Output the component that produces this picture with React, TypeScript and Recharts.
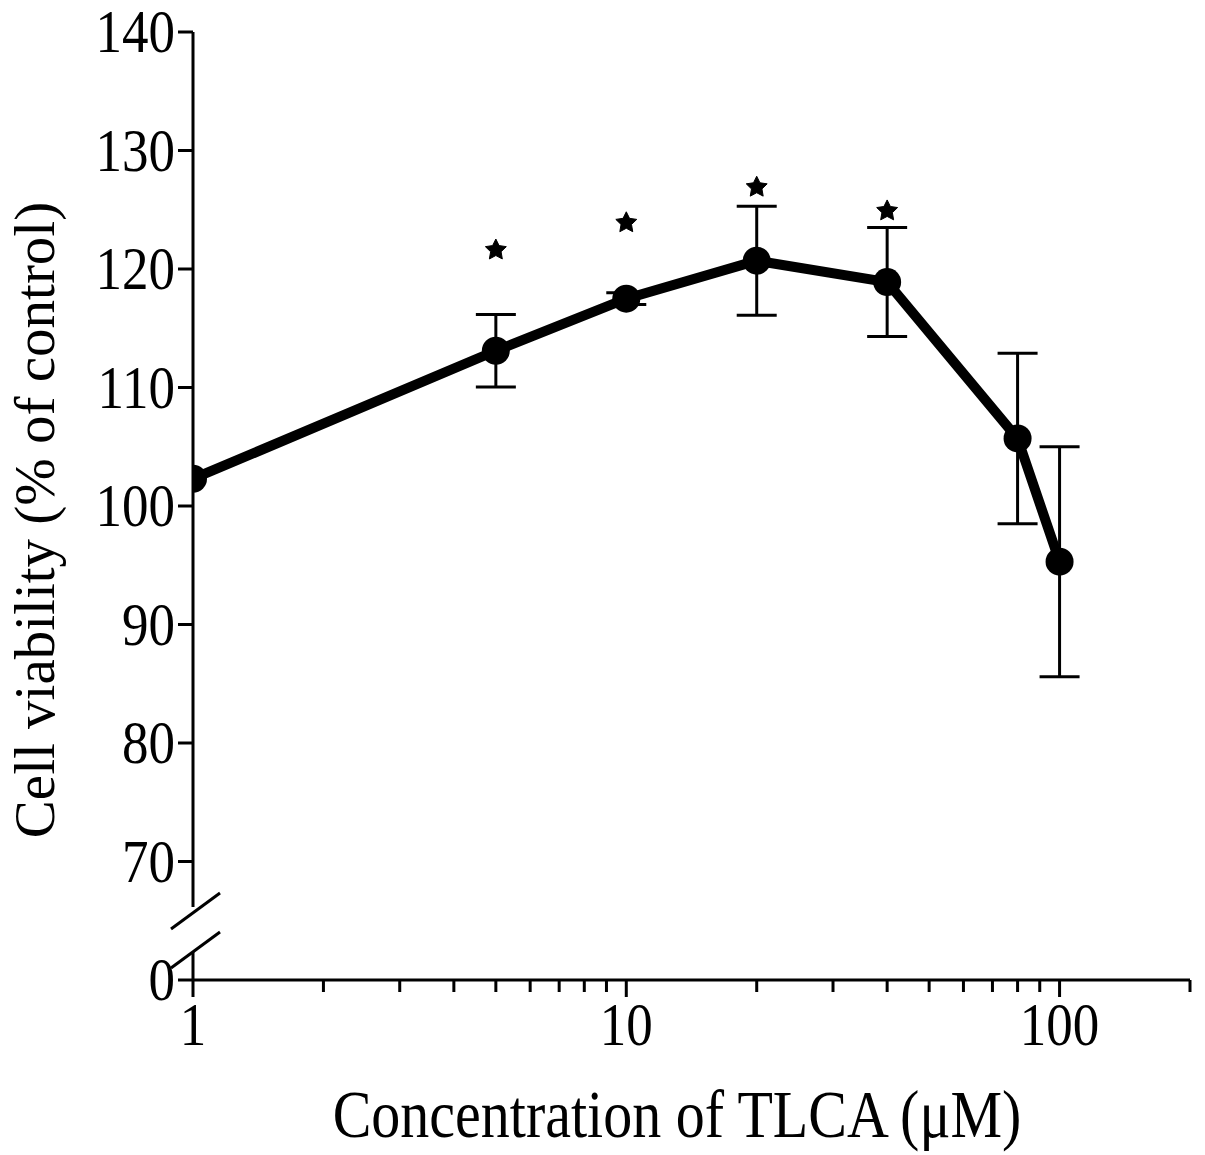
import React from 'react';
import { ComposedChart, Line, Scatter, XAxis, YAxis, ErrorBar } from 'recharts';

const concentrations = [1, 5, 10, 20, 40, 80, 100];
const viability = [102.3, 113.1, 117.5, 120.7, 118.9, 105.7, 95.3];
const sem = [0, 3.05, 0.5, 4.6, 4.6, 7.2, 9.7];

const starConcentrations = [5, 10, 20, 40];
const starLevels = [121.6, 123.9, 126.9, 124.9];

const xTicks = [1, 2, 3, 4, 5, 6, 7, 8, 9, 10, 20, 30, 40, 50, 60, 70, 80, 90, 100, 200];
const xMajor = [1, 10, 100];
const yTicks = [60, 70, 80, 90, 100, 110, 120, 130, 140];

const data = concentrations.map((c, i) => ({ c, v: viability[i], e: sem[i] }));
const stars = starConcentrations.map((c, i) => ({ c, s: starLevels[i] }));

const FONT = '"Liberation Serif", "Times New Roman", serif';
const STRETCH = 1.17;

function XTick({ x, y, payload }: any) {
  const v = payload.value;
  const major = xMajor.includes(v);
  return (
    <g>
      <line x1={x} x2={x} y1={y} y2={y + (major ? 17 : 12)} stroke="#000" strokeWidth={3} />
      {major && (
        <text
          transform={`translate(${x},${y + 65}) scale(1,${STRETCH})`}
          textAnchor="middle"
          fontFamily={FONT}
          fontSize={53}
          fill="#000"
        >
          {v}
        </text>
      )}
    </g>
  );
}

function YTick({ x, y, payload }: any) {
  const v = payload.value;
  const axisX = x + 18;
  return (
    <g>
      <text
        transform={`translate(${x},${y + 20}) scale(1,${STRETCH})`}
        textAnchor="end"
        fontFamily={FONT}
        fontSize={53}
        fill="#000"
      >
        {v === 60 ? '0' : v}
      </text>
      {v === 60 && (
        <g>
          <rect x={axisX - 4} y={y - 73} width={8} height={45} fill="#fff" />
          <line x1={axisX - 22} y1={y - 51} x2={axisX + 27} y2={y - 87} stroke="#000" strokeWidth={3} />
          <line x1={axisX - 22} y1={y - 12} x2={axisX + 27} y2={y - 48} stroke="#000" strokeWidth={3} />
        </g>
      )}
    </g>
  );
}

function StarShape({ cx, cy }: any) {
  const pts: string[] = [];
  for (let k = 0; k < 10; k++) {
    const r = k % 2 === 0 ? 11 : 5.5;
    const a = -Math.PI / 2 + (k * Math.PI) / 5;
    pts.push(`${cx + r * Math.cos(a)},${cy + r * Math.sin(a)}`);
  }
  return <polygon points={pts.join(' ')} fill="#000" stroke="#000" strokeWidth={1} strokeLinejoin="round" />;
}

export default function App() {
  return (
    <div style={{ position: 'absolute', left: 0, top: 0, width: 1205, height: 1155, background: '#fff' }}>
      <ComposedChart width={1205} height={1155} data={data} margin={{ top: 32, right: 15, bottom: 0, left: 0 }}>
        <XAxis
          dataKey="c"
          type="number"
          scale="log"
          domain={[1, 200]}
          ticks={xTicks}
          interval={0}
          allowDataOverflow
          height={175}
          axisLine={{ stroke: '#000', strokeWidth: 3 }}
          tickLine={false}
          tickSize={0}
          tickMargin={0}
          tick={<XTick />}
          label={{
            content: () => (
              <text
                transform={`translate(677,1137) scale(1,${STRETCH})`}
                textAnchor="middle"
                fontFamily={FONT}
                fontSize={58}
                fill="#000"
              >
                Concentration of TLCA (μM)
              </text>
            ),
          }}
        />
        <YAxis
          type="number"
          domain={[60, 140]}
          ticks={yTicks}
          interval={0}
          width={193}
          axisLine={{ stroke: '#000', strokeWidth: 3 }}
          tickLine={{ stroke: '#000', strokeWidth: 3 }}
          tickSize={15}
          tickMargin={3}
          tick={<YTick />}
          label={{
            content: () => (
              <text
                transform={`translate(54,520) rotate(-90)`}
                textAnchor="middle"
                fontFamily={FONT}
                fontSize={57}
                fill="#000"
              >
                Cell viability (% of control)
              </text>
            ),
          }}
        />
        <Line
          dataKey="v"
          stroke="#000"
          strokeWidth={10}
          dot={{ r: 14, fill: '#000', stroke: '#000', strokeWidth: 0 }}
          isAnimationActive={false}
        >
          <ErrorBar dataKey="e" direction="y" width={20} stroke="#000" strokeWidth={3} />
        </Line>
        <Scatter data={stars} dataKey="s" shape={<StarShape />} isAnimationActive={false} />
      </ComposedChart>
    </div>
  );
}
